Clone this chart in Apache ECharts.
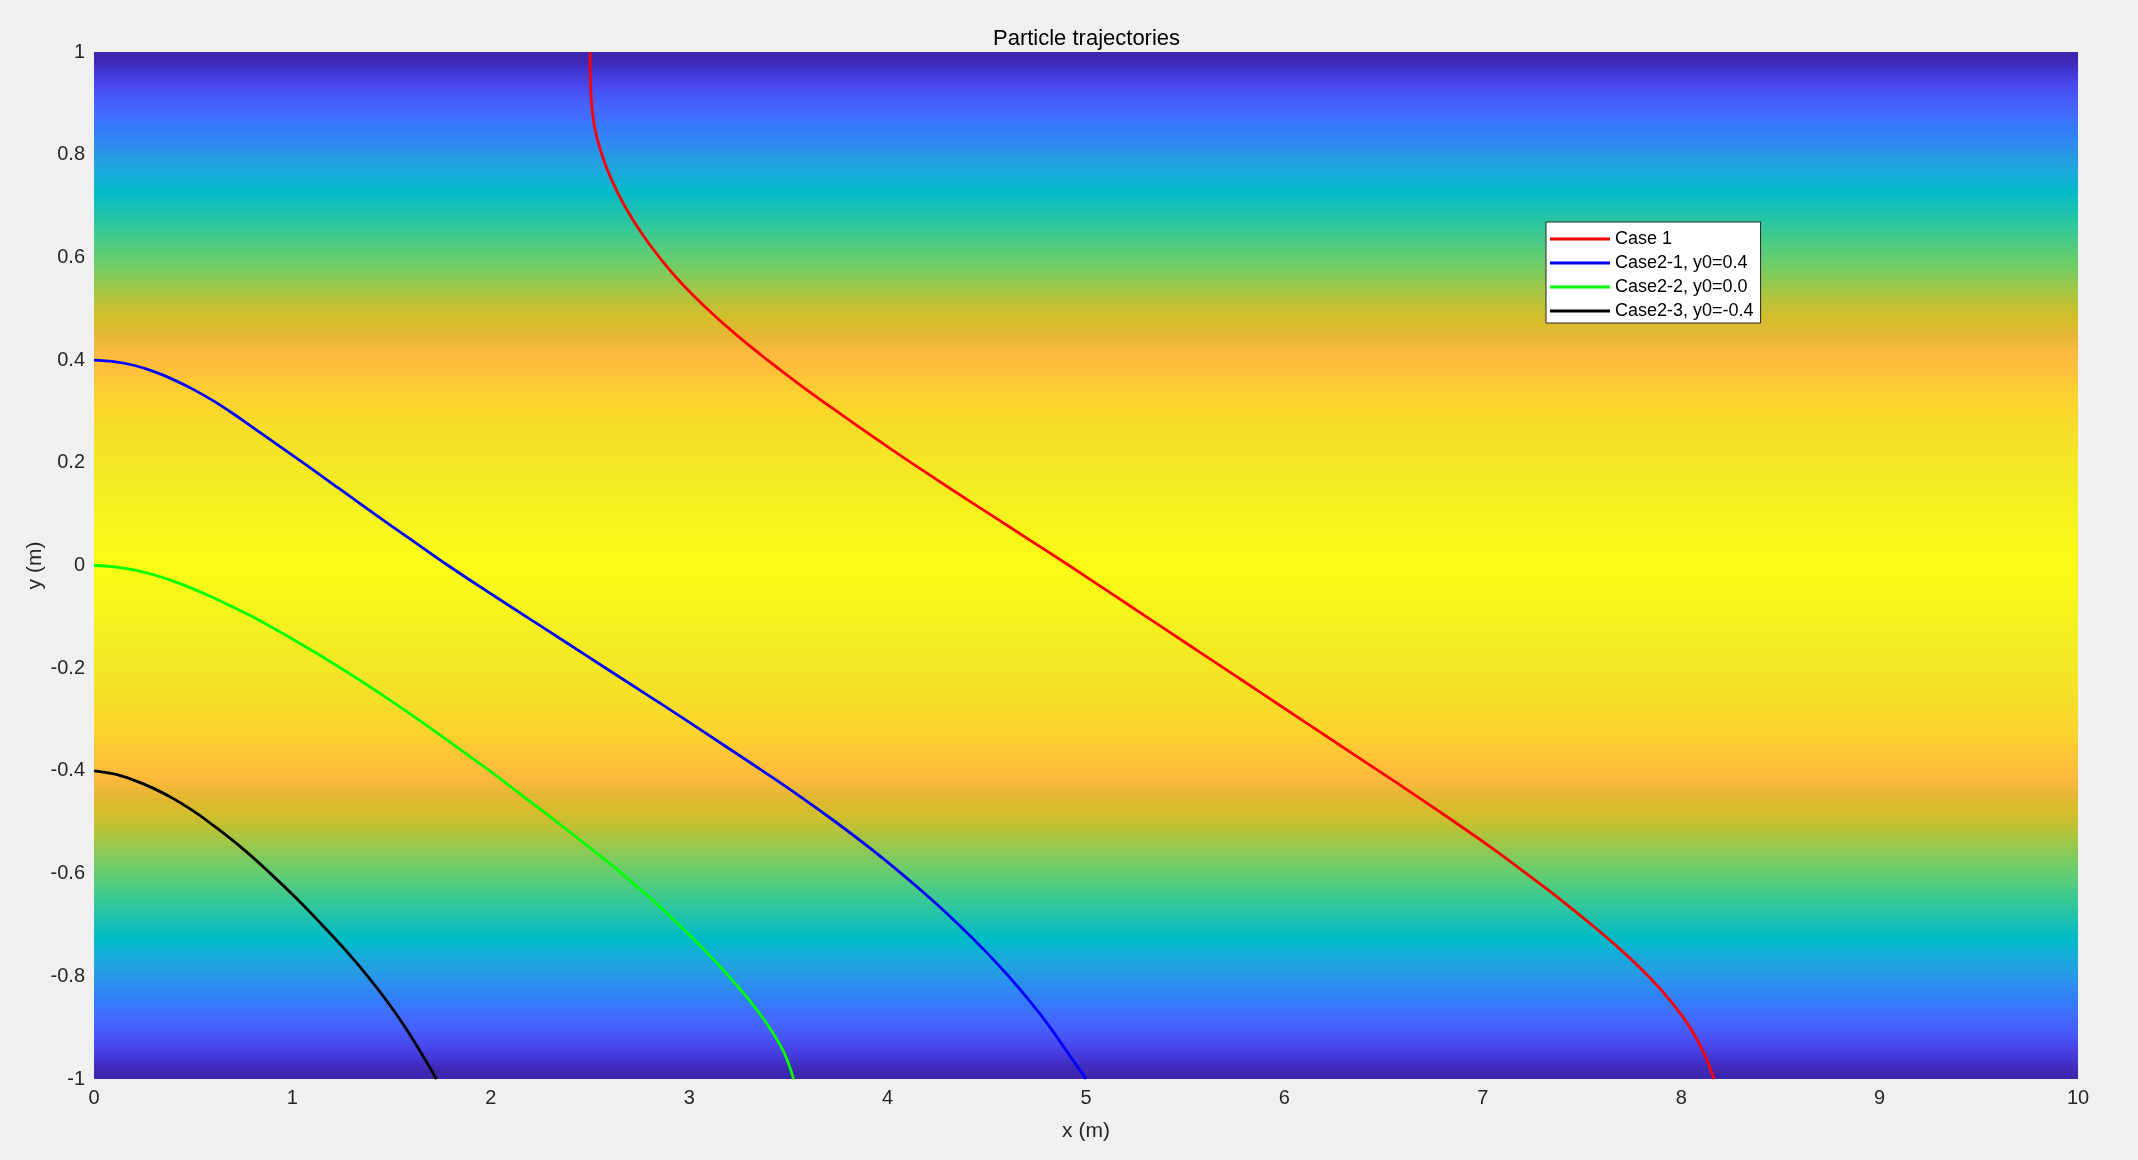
<!DOCTYPE html>
<html>
<head>
<meta charset="utf-8">
<script src="https://cdn.jsdelivr.net/npm/echarts@6/dist/echarts.min.js"></script>
<style>
html,body{margin:0;padding:0;background:#f0f0f0;}
#chart{width:2138px;height:1160px;}
</style>
</head>
<body>
<div id="chart"></div>
<script>
// ---- data ----
const titleText = 'Particle trajectories';
const xName = 'x (m)';
const yName = 'y (m)';
const seriesNames = ['Case 1', 'Case2-1, y0=0.4', 'Case2-2, y0=0.0', 'Case2-3, y0=-0.4'];
const seriesColors = ['#ff0000', '#0000ff', '#00ff00', '#000000'];

// trajectories as [x, y] points
const case1 = [[2.500,1.0],[2.502,0.95],[2.508,0.9],[2.525,0.85],[2.56,0.8],[2.61,0.75],[2.675,0.7],[2.755,0.65],[2.85,0.6],[2.96,0.55],[3.09,0.5],[3.235,0.45],[3.395,0.4],[3.565,0.35],[3.745,0.3],[3.93,0.25],[4.12,0.2],[4.315,0.15],[4.515,0.1],[4.715,0.05],[4.915,0.0],[5.11,-0.05],[5.305,-0.1],[5.5,-0.15],[5.695,-0.2],[5.89,-0.25],[6.085,-0.3],[6.28,-0.35],[6.475,-0.4],[6.67,-0.45],[6.86,-0.5],[7.045,-0.55],[7.22,-0.6],[7.39,-0.65],[7.55,-0.7],[7.70,-0.75],[7.835,-0.8],[7.95,-0.85],[8.045,-0.9],[8.115,-0.95],[8.165,-1.0]];
const case21 = [[0,0.4],[0.1,0.397],[0.2,0.39],[0.3,0.378],[0.4,0.362],[0.5,0.343],[0.6,0.321],[0.7,0.296],[0.8,0.269],[1.055,0.2],[1.235,0.15],[1.415,0.1],[1.6,0.05],[1.785,0.0],[1.98,-0.05],[2.18,-0.1],[2.38,-0.15],[2.58,-0.2],[2.78,-0.25],[2.98,-0.3],[3.175,-0.35],[3.37,-0.4],[3.56,-0.45],[3.74,-0.5],[3.91,-0.55],[4.07,-0.6],[4.22,-0.65],[4.36,-0.7],[4.49,-0.75],[4.61,-0.8],[4.72,-0.85],[4.82,-0.9],[4.91,-0.95],[5.0,-1.0]];
const case22 = [[0,0],[0.1,-0.0025],[0.2,-0.0085],[0.3,-0.018],[0.4,-0.0305],[0.5,-0.0455],[0.6,-0.0625],[0.7,-0.081],[0.8,-0.1],[1.03,-0.15],[1.245,-0.2],[1.445,-0.25],[1.635,-0.3],[1.815,-0.35],[1.995,-0.4],[2.165,-0.45],[2.335,-0.5],[2.50,-0.55],[2.66,-0.6],[2.81,-0.65],[2.95,-0.7],[3.08,-0.75],[3.20,-0.8],[3.31,-0.85],[3.405,-0.9],[3.48,-0.95],[3.526,-1.0]];
const case23 = [[0,-0.4],[0.1,-0.406],[0.2,-0.418],[0.3,-0.434],[0.4,-0.454],[0.5,-0.478],[0.58,-0.5],[0.745,-0.55],[0.89,-0.6],[1.025,-0.65],[1.15,-0.7],[1.27,-0.75],[1.38,-0.8],[1.48,-0.85],[1.57,-0.9],[1.65,-0.95],[1.726,-1.0]];

// background field colours sampled at these |y| positions (symmetric about y=0)
const fieldY =     [1.00,     0.98,     0.96,     0.935,    0.90,     0.87,     0.85,     0.82,     0.786,    0.753,    0.727,    0.695,    0.662,    0.623,    0.585,    0.546,    0.507,    0.481,    0.448,    0.416,    0.377,    0.331,    0.253,    0.156,    0.059,    0.00];
const fieldColor = ['#3d26ac','#3f29b6','#4336d6','#4848ee','#4660fc','#3f70ff','#337cf8','#2e8cf0','#23a0e2','#12b0d6','#02bac8','#18c0b4','#30c79c','#4fcc80','#70cd68','#98c84c','#c0c134','#d4bd2c','#e5b634','#fbb93e','#ffc238','#fbd22e','#f5e028','#f3ec22','#f7f71a','#f9fb14'];

const xMin = 0, xMax = 10, xStep = 1;
const yMin = -1, yMax = 1, yStep = 0.2;

// ---- chart ----
const chart = echarts.init(document.getElementById('chart'));
const stops = [];
for (let i = 0; i < fieldY.length; i++) stops.push({offset: (yMax - fieldY[i]) / (yMax - yMin), color: fieldColor[i]});
for (let i = fieldY.length - 2; i >= 0; i--) stops.push({offset: (yMax + fieldY[i]) / (yMax - yMin), color: fieldColor[i]});

const font = "'Liberation Sans', Arial, Helvetica, sans-serif";
const datasets = [case1, case21, case22, case23];

chart.setOption({
  animation: false,
  backgroundColor: '#f0f0f0',
  textStyle: {fontFamily: font},
  title: {
    text: titleText, left: 988, top: 23,
    textStyle: {fontFamily: font, fontSize: 22, fontWeight: 'normal', color: '#000'}
  },
  grid: {
    left: 94, right: 60, top: 52, bottom: 81, show: true, borderWidth: 0,
    backgroundColor: new echarts.graphic.LinearGradient(0, 0, 0, 1, stops)
  },
  legend: {
    orient: 'vertical', left: 1546, top: 222,
    itemWidth: 60, itemHeight: 3, itemGap: 0, icon: 'rect',
    padding: [5, 7, 0, 4], backgroundColor: '#ffffff', borderColor: '#262626', borderWidth: 1, borderRadius: 0,
    textStyle: {fontFamily: font, fontSize: 18, lineHeight: 24, color: '#000'},
    data: seriesNames
  },
  xAxis: {
    type: 'value', min: xMin, max: xMax, interval: xStep,
    name: xName, nameLocation: 'middle', nameGap: 42, nameMoveOverlap: false,
    nameTextStyle: {fontFamily: font, fontSize: 21, color: '#262626'},
    axisLine: {show: false}, axisTick: {show: false}, splitLine: {show: false},
    axisLabel: {margin: 9, fontFamily: font, fontSize: 20, color: '#262626'}
  },
  yAxis: {
    type: 'value', min: yMin, max: yMax, interval: yStep,
    name: yName, nameLocation: 'middle', nameGap: 48, nameRotate: 90, nameMoveOverlap: false,
    nameTextStyle: {fontFamily: font, fontSize: 21, color: '#262626'},
    axisLine: {show: false}, axisTick: {show: false}, splitLine: {show: false},
    axisLabel: {margin: 9, fontFamily: font, fontSize: 20, color: '#262626',
      formatter: v => String(Math.round(v * 10) / 10)}
  },
  series: datasets.map((d, i) => ({
    name: seriesNames[i], type: 'line', data: d, smooth: 0.4,
    showSymbol: false, symbol: 'none', clip: true,
    lineStyle: {color: seriesColors[i], width: 2.8},
    itemStyle: {color: seriesColors[i]}
  }))
});
</script>
</body>
</html>
